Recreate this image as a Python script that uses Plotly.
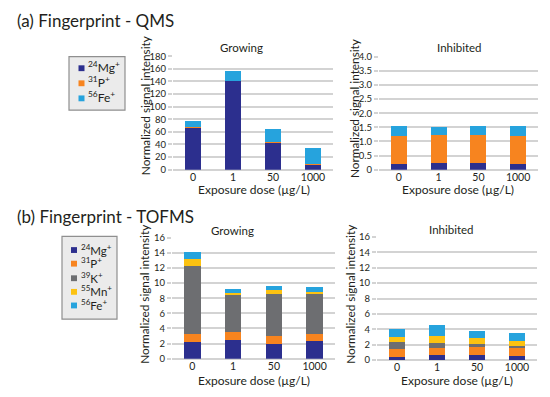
import plotly.graph_objects as go

# ---------------- data ----------------
doses = ["0", "1", "50", "1000"]

qms_labels = ["<sup>24</sup>Mg<sup>+</sup>", "<sup>31</sup>P<sup>+</sup>", "<sup>56</sup>Fe<sup>+</sup>"]
qms_growing_mg = [66, 140, 42.5, 7.5]
qms_growing_p = [1.5, 1.2, 1.5, 1.5]
qms_growing_fe = [9.5, 15.3, 20, 25.8]
qms_inhib_mg = [0.19, 0.23, 0.23, 0.19]
qms_inhib_p = [1.0, 0.99, 1.0, 1.0]
qms_inhib_fe = [0.36, 0.31, 0.33, 0.36]

tof_labels = ["<sup>24</sup>Mg<sup>+</sup>", "<sup>31</sup>P<sup>+</sup>", "<sup>39</sup>K<sup>+</sup>",
              "<sup>55</sup>Mn<sup>+</sup>", "<sup>56</sup>Fe<sup>+</sup>"]
tof_growing_mg = [2.2, 2.5, 2.0, 2.27]
tof_growing_p = [1.0, 0.97, 1.0, 1.03]
tof_growing_k = [9.0, 5.0, 5.57, 5.3]
tof_growing_mn = [1.0, 0.23, 0.48, 0.27]
tof_growing_fe = [0.9, 0.5, 0.55, 0.56]
tof_inhib_mg = [0.42, 0.63, 0.68, 0.51]
tof_inhib_p = [1.01, 0.93, 1.01, 1.01]
tof_inhib_k = [0.89, 0.63, 0.38, 0.34]
tof_inhib_mn = [0.67, 0.89, 0.76, 0.56]
tof_inhib_fe = [1.01, 1.48, 0.97, 1.04]

qms_growing_ticks = [0, 20, 40, 60, 80, 100, 120, 140, 160, 180]
qms_inhib_ticks = [0, 0.5, 1.0, 1.5, 2.0, 2.5, 3.0, 3.5, 4.0]
qms_inhib_ticktext = ["0", "0.5", "1.0", "1.5", "2.0", "2.5", "3.0", "3.5", "4.0"]
tof_ticks = [0, 2, 4, 6, 8, 10, 12, 14, 16]

# ---------------- style ----------------
C_MG = "#2c2f8e"
C_P = "#f7841f"
C_K = "#6d6e71"
C_MN = "#fcc211"
C_FE = "#26a3dd"
GRID = "#d3d3d3"
TXT = "#231f20"
FONT = "Lato"
W, H = 550, 397


def px(x):
    return x / W


def py(y):
    return 1 - y / H


fig = go.Figure()

panels = [
    ("x", "y", [qms_growing_mg, qms_growing_p, qms_growing_fe], [C_MG, C_P, C_FE]),
    ("x2", "y2", [qms_inhib_mg, qms_inhib_p, qms_inhib_fe], [C_MG, C_P, C_FE]),
    ("x3", "y3", [tof_growing_mg, tof_growing_p, tof_growing_k, tof_growing_mn, tof_growing_fe],
     [C_MG, C_P, C_K, C_MN, C_FE]),
    ("x4", "y4", [tof_inhib_mg, tof_inhib_p, tof_inhib_k, tof_inhib_mn, tof_inhib_fe],
     [C_MG, C_P, C_K, C_MN, C_FE]),
]
for xa, ya, series, cols in panels:
    for vals, col in zip(series, cols):
        fig.add_trace(go.Bar(x=doses, y=vals, xaxis=xa, yaxis=ya, width=0.4,
                             marker=dict(color=col, line=dict(width=0)),
                             showlegend=False, hoverinfo="skip"))

xcommon = dict(type="category", showgrid=False, showline=False, zeroline=False,
               ticks="", tickfont=dict(size=10.5, color=TXT, family=FONT),
               range=[-0.5, 3.5], fixedrange=True)
ycommon = dict(showgrid=True, gridcolor=GRID, gridwidth=2, zeroline=True,
               zerolinecolor=GRID, zerolinewidth=2, showline=False,
               ticks="outside", ticklen=4, tickcolor=GRID, tickwidth=2,
               tickfont=dict(size=9.5, color=TXT, family=FONT), fixedrange=True)

fig.update_layout(
    width=W, height=H,
    margin=dict(l=0, r=0, t=0, b=0),
    paper_bgcolor="white", plot_bgcolor="white",
    barmode="stack", bargap=0,
    font=dict(family=FONT, color=TXT),
    xaxis=dict(xcommon, domain=[px(173), px(333)], anchor="y"),
    yaxis=dict(ycommon, domain=[py(168.3), py(51.7)], anchor="x",
               range=[0, 180], tickvals=qms_growing_ticks),
    xaxis2=dict(xcommon, domain=[px(379), px(538)], anchor="y2"),
    yaxis2=dict(ycommon, domain=[py(168.3), py(52.3)], anchor="x2",
                range=[0, 4], tickvals=qms_inhib_ticks, ticktext=qms_inhib_ticktext),
    xaxis3=dict(xcommon, domain=[px(172), px(335)], anchor="y3"),
    yaxis3=dict(ycommon, domain=[py(362.7), py(238.3)], anchor="x3",
                range=[0, 16], tickvals=tof_ticks),
    xaxis4=dict(xcommon, domain=[px(377), px(537)], anchor="y4"),
    yaxis4=dict(ycommon, domain=[py(364), py(237.7)], anchor="x4",
                range=[0, 16], tickvals=tof_ticks),
)

ann = []


def text(x, y, s, size, angle=0, xanchor="center"):
    ann.append(dict(x=px(x), y=py(y), xref="paper", yref="paper", text=s, showarrow=False,
                    xanchor=xanchor, yanchor="middle", textangle=angle,
                    font=dict(size=size, color=TXT, family=FONT)))


text(15, 15, "(a) Fingerprint - QMS", 17, xanchor="left")
text(15, 216, "(b) Fingerprint - TOFMS", 17, xanchor="left")
text(241, 43, "Growing", 11.5)
text(460, 43, "Inhibited", 11.5)
text(232, 231, "Growing", 11.5)
text(451, 230, "Inhibited", 11.5)
for x, y in [(145, 103), (354, 106), (145, 297), (351, 297)]:
    text(x, y, "Normalized signal intensity", 11.8, angle=-90)
for x, y in [(254, 189), (458, 189), (254, 385), (457, 385)]:
    text(x, y, "Exposure dose (µg/L)", 12)

shapes = []


def legend(box, sq_x, text_x, ys, labels, colors, fsize):
    x0, y0, x1, y1 = box
    shapes.append(dict(type="rect", xref="paper", yref="paper", x0=px(x0), x1=px(x1),
                       y0=py(y1), y1=py(y0), fillcolor="#ebebeb",
                       line=dict(color="#8f8f8f", width=1.2)))
    for yy, lab, col in zip(ys, labels, colors):
        shapes.append(dict(type="rect", xref="paper", yref="paper",
                           x0=px(sq_x - 3), x1=px(sq_x + 3), y0=py(yy + 3), y1=py(yy - 3),
                           fillcolor=col, line=dict(width=0)))
        text(text_x, yy - 1, lab, fsize, xanchor="left")


legend((69, 52, 125, 107), 81.5, 86, [64, 79.5, 95], qms_labels, [C_MG, C_P, C_FE], 12)
legend((62, 237, 117, 322), 74, 79, [251, 265, 280, 294, 308], tof_labels,
       [C_MG, C_P, C_K, C_MN, C_FE], 11.5)

fig.update_layout(annotations=ann, shapes=shapes)

fig.write_html("out.html",
               config={"displayModeBar": False, "staticPlot": True},
               post_script="document.body.style.margin='0px';document.body.style.overflow='hidden';")
